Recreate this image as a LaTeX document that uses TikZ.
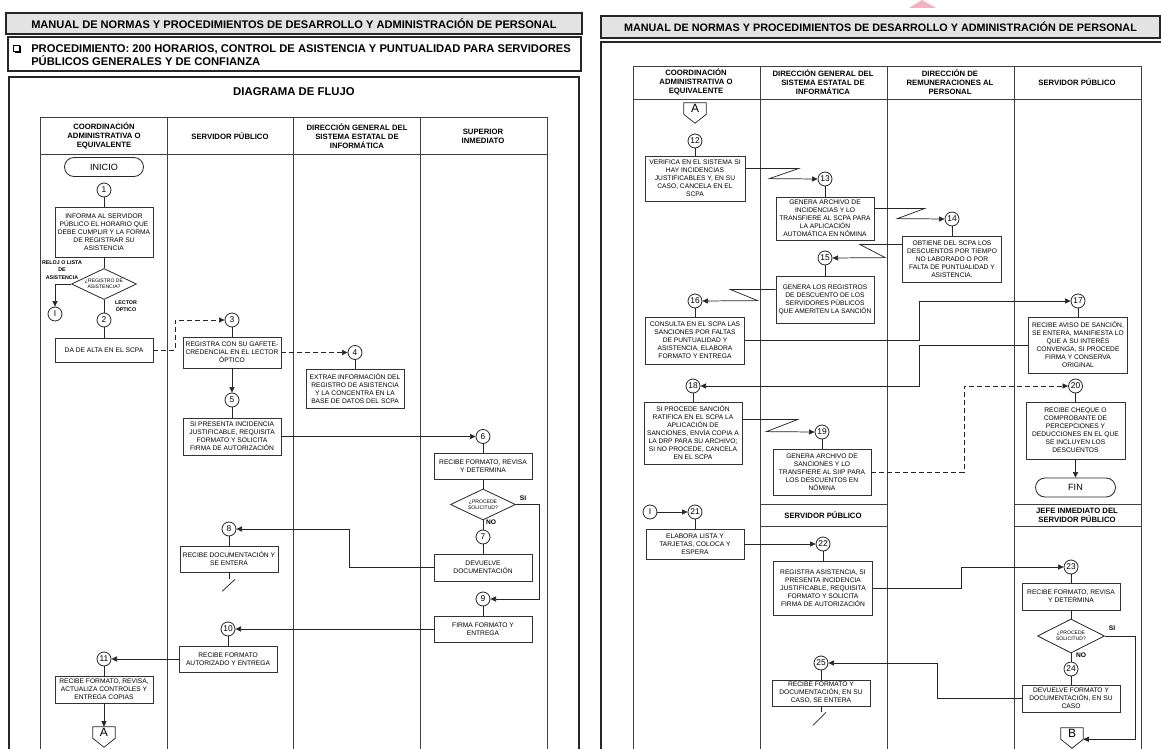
\documentclass[tikz,border=0pt]{standalone}
\usepackage{fontspec}
\setmainfont{Liberation Sans}
\usetikzlibrary{arrows.meta,shapes.geometric,shapes.misc,calc}
\begin{document}
\begin{tikzpicture}[x=0.75pt,y=-0.75pt,
  ln/.style={line width=0.55pt, draw=black!85},
  flow/.style={ln, -{Triangle[length=4.2pt,width=3.8pt]}},
  dsh/.style={ln, dash pattern=on 3.5pt off 2.5pt, -{Triangle[length=4.2pt,width=3.8pt]}},
  box/.style={draw=black!80, line width=0.6pt, fill=white, align=center, inner sep=0pt, font=\fontsize{5}{6}\selectfont},
  sz/.style 2 args={minimum width=#1*0.75pt, minimum height=#2*0.75pt},
  num/.style={circle, draw=black!85, line width=0.6pt, fill=white, minimum size=10.5pt, inner sep=0pt, font=\fontsize{6.3}{6.3}\selectfont},
  term/.style={rounded rectangle, draw=black!85, line width=0.6pt, inner sep=0pt, font=\fontsize{6.8}{7}\selectfont},
  dec/.style={diamond, draw=black!85, line width=0.6pt, fill=white, inner sep=0pt, minimum width=48.75pt, minimum height=23.25pt},
  dtxt/.style={align=center, inner sep=0pt, font=\fontsize{3.8}{4.4}\selectfont},
  cnx/.style={inner sep=0pt, minimum width=16.5pt, minimum height=8.25pt, font=\fontsize{9}{9}\selectfont},
  lane/.style={line width=0.6pt, draw=black!75},
  lanehd/.style={align=center, font=\bfseries\fontsize{5.8}{6.9}\selectfont},
  tinylbl/.style={align=center, inner sep=0pt, font=\bfseries\fontsize{4}{5.4}\selectfont},
  yn/.style={inner sep=0pt, font=\bfseries\fontsize{5}{5}\selectfont},
  frame/.style={line width=0.9pt, draw=black!85},
  ]
\clip (0,0) rectangle (1161,749);
\fill[white] (0,0) rectangle (1161,749);

% ================= LEFT PAGE =================
\node[draw, frame, fill=gray!22, sz={576}{21}, inner sep=0pt, font=\bfseries\fontsize{8.3}{9}\selectfont] (hdrL) at (294,23.5) {MANUAL DE NORMAS Y PROCEDIMIENTOS DE DESARROLLO Y ADMINISTRACIÓN DE PERSONAL};
\draw[frame] (8,37) rectangle (581,71);
\draw[line width=0.5pt] (13,45) rectangle (19,51);
\draw[line width=0.9pt] (14.5,52) -- (20,52) -- (20,46.5);
\node[anchor=west, align=left, inner sep=0pt, font=\bfseries\fontsize{8.4}{9.75}\selectfont] (proc) at (31,55.5) {PROCEDIMIENTO: 200 HORARIOS, CONTROL DE ASISTENCIA Y PUNTUALIDAD PARA SERVIDORES\\PÚBLICOS GENERALES Y DE CONFIANZA};
\draw[frame] (9,77) rectangle (579,770);
\node[font=\bfseries\fontsize{8.5}{9}\selectfont] (dtitle) at (294,92) {DIAGRAMA DE FLUJO};

\draw[lane] (40,117) rectangle (547,770);
\draw[lane] (40,154) -- (547,154);
\draw[lane] (167,117) -- (167,770) (293,117) -- (293,770) (420,117) -- (420,770);
\node[lanehd] (lh1) at (104,136) {COORDINACIÓN\\ADMINISTRATIVA O\\EQUIVALENTE};
\node[lanehd] (lh2) at (230,136) {SERVIDOR PÚBLICO};
\node[lanehd] (lh3) at (357,136) {DIRECCIÓN GENERAL DEL\\SISTEMA ESTATAL DE\\INFORMÁTICA};
\node[lanehd] (lh4) at (483,136) {SUPERIOR\\INMEDIATO};

\node[term, sz={79}{19}] (inicio) at (104,167) {INICIO};
\node[num] (n1) at (104,190) {1};
\node[box, sz={98}{50}] (b1) at (104,232) {INFORMA AL SERVIDOR\\PÚBLICO EL HORARIO QUE\\DEBE CUMPLIR Y LA FORMA\\DE REGISTRAR SU\\ASISTENCIA};
\node[dec] (d1) at (104,284) {};
\node[dtxt] (d1t) at (104,284) {¿REGISTRO DE\\ASISTENCIA?};
\node[tinylbl] (lreloj) at (62,270) {RELOJ O LISTA\\DE\\ASISTENCIA};
\node[num] (nI) at (55,314) {I};
\node[tinylbl] (llector) at (126,306) {LECTOR\\ÓPTICO};
\node[num] (n2) at (104,320) {2};
\node[box, sz={98}{24}] (b2) at (104,350) {DA DE ALTA EN EL SCPA};
\node[num] (n3) at (232,320) {3};
\node[box, sz={98}{31}] (b3) at (232,352.5) {REGISTRA CON SU GAFETE-\\CREDENCIAL EN EL LECTOR\\ÓPTICO};
\node[num] (n4) at (355,352.5) {4};
\node[box, sz={98}{39}] (b4) at (355,388.5) {EXTRAE INFORMACIÓN DEL\\REGISTRO DE ASISTENCIA\\Y LA CONCENTRA EN LA\\BASE DE DATOS DEL SCPA};
\node[num] (n5) at (232,400) {5};
\node[box, sz={98}{37}] (b5) at (232,436.5) {SI PRESENTA INCIDENCIA\\JUSTIFICABLE, REQUISITA\\FORMATO Y SOLICITA\\FIRMA DE AUTORIZACIÓN};
\node[num] (n6) at (483,436.5) {6};
\node[box, sz={98}{26}] (b6) at (483,466) {RECIBE FORMATO, REVISA\\Y DETERMINA};
\node[dec] (d2) at (483,504.5) {};
\node[dtxt] (d2t) at (483,504.5) {¿PROCEDE\\SOLICITUD?};
\node[yn] (si1) at (523,498) {SI};
\node[yn] (no1) at (491,522) {NO};
\node[num] (n7) at (483,537) {7};
\node[box, sz={98}{27}] (b7) at (483,567.5) {DEVUELVE\\DOCUMENTACIÓN};
\node[num] (n8) at (229,529) {8};
\node[box, sz={98}{26}] (b8) at (229,559) {RECIBE DOCUMENTACIÓN Y\\SE ENTERA};
\node[num] (n9) at (483,599) {9};
\node[box, sz={98}{26}] (b9) at (483,629) {FIRMA FORMATO Y\\ENTREGA};
\node[num] (n10) at (228,629) {10};
\node[box, sz={98}{26}] (b10) at (228,659) {RECIBE FORMATO\\AUTORIZADO Y ENTREGA};
\node[num] (n11) at (104,659) {11};
\node[box, sz={98}{27}] (b11) at (104,689.5) {RECIBE FORMATO, REVISA,\\ACTUALIZA CONTROLES Y\\ENTREGA COPIAS};
\node[cnx] (cA) at (104,732.5) {A};
\draw[ln] (cA.north west) -- (cA.north east) -- (cA.south east) -- ([yshift=-6.75pt]cA.south) -- (cA.south west) -- cycle;

\draw[ln] (n1) -- (b1);
\draw[ln] (b1) -- (d1);
\draw[ln] (d1) -- (n2);
\draw[flow] (d1.west) -| (nI.north);
\draw[ln] (n2) -- (b2);
\draw[dsh] (b2.east) -- ++(22,0) |- (n3.west);
\draw[ln] (n3) -- (b3);
\draw[dsh] (b3.east) -- (n4.west);
\draw[ln] (n4) -- (b4);
\draw[flow] (b3) -- (n5);
\draw[ln] (n5) -- (b5);
\draw[flow] (b5.east) -- (n6.west);
\draw[ln] (n6) -- (b6);
\draw[ln] (b6) -- (d2);
\draw[ln] (d2) -- (n7);
\draw[ln] (n7) -- (b7);
\draw[flow] (b7.west) -- (349,567.5) |- (n8.east);
\draw[ln] (n8) -- (b8);
\draw[ln] (b8.south) -- ++(0,7);
\draw[ln] ($(b8.south)+(6,7)$) -- ++(-13,12);
\draw[flow] (d2.east) -- (539,504.5) |- (n9.east);
\draw[ln] (n9) -- (b9);
\draw[flow] (b9.west) -- (n10.east);
\draw[ln] (n10) -- (b10);
\draw[flow] (b10.west) -- (n11.east);
\draw[ln] (n11) -- (b11);
\draw[flow] (b11) -- (cA);

% ================= RIGHT PAGE =================
\fill[fill={rgb,255:red,242;green,178;blue,192}] (909,8) -- (922,0) -- (936,8) -- cycle;
\node[draw, frame, fill=gray!22, sz={559}{22}, inner sep=0pt, font=\bfseries\fontsize{8.1}{9}\selectfont] (hdrR) at (880.5,27) {MANUAL DE NORMAS Y PROCEDIMIENTOS DE DESARROLLO Y ADMINISTRACIÓN DE PERSONAL};
\draw[frame] (601,42) rectangle (1175,770);

\draw[lane] (633,66) rectangle (1141,770);
\draw[lane] (633,99) -- (1141,99);
\draw[lane] (760,66) -- (760,770) (887,66) -- (887,770) (1014,66) -- (1014,770);
\draw[lane] (760,504) -- (887,504) (760,526) -- (887,526) (1014,504) -- (1141,504) (1014,526) -- (1141,526);
\node[lanehd] (rh1) at (696,82) {COORDINACIÓN\\ADMINISTRATIVA O\\EQUIVALENTE};
\node[lanehd] (rh2) at (823,82) {DIRECCIÓN GENERAL DEL\\SISTEMA ESTATAL DE\\INFORMÁTICA};
\node[lanehd] (rh3) at (950,82) {DIRECCIÓN DE\\REMUNERACIONES AL\\PERSONAL};
\node[lanehd] (rh4) at (1077,82) {SERVIDOR PÚBLICO};
\node[lanehd] (rh5) at (823,515) {SERVIDOR PÚBLICO};
\node[lanehd] (rh6) at (1077,515) {JEFE INMEDIATO DEL\\SERVIDOR PÚBLICO};

\node[cnx] (cA2) at (695,108.5) {A};
\draw[ln] (cA2.north west) -- (cA2.north east) -- (cA2.south east) -- ([yshift=-6.75pt]cA2.south) -- (cA2.south west) -- cycle;
\node[num] (n12) at (695,141) {12};
\node[box, sz={100}{45}] (b12) at (695,178.5) {VERIFICA EN EL SISTEMA SI\\HAY INCIDENCIAS\\JUSTIFICABLES Y, EN SU\\CASO, CANCELA EN EL\\SCPA};
\node[num] (n13) at (825,179) {13};
\node[box, sz={98}{43}] (b13) at (825,218.5) {GENERA ARCHIVO DE\\INCIDENCIAS Y LO\\TRANSFIERE AL SCPA PARA\\LA APLICACIÓN\\AUTOMÁTICA EN NÓMINA};
\node[num] (n14) at (952,219) {14};
\node[box, sz={99}{46}] (b14) at (952,259) {OBTIENE DEL SCPA LOS\\DESCUENTOS POR TIEMPO\\NO LABORADO O POR\\FALTA DE PUNTUALIDAD Y\\ASISTENCIA.};
\node[num] (n15) at (825,258) {15};
\node[box, sz={98}{47}] (b15) at (825,299.5) {GENERA LOS REGISTROS\\DE DESCUENTO DE LOS\\SERVIDORES PÚBLICOS\\QUE AMERITEN LA SANCIÓN};
\node[num] (n16) at (695,301) {16};
\node[box, sz={99}{47}] (b16) at (695,340.5) {CONSULTA EN EL SCPA LAS\\SANCIONES POR FALTAS\\DE PUNTUALIDAD Y\\ASISTENCIA, ELABORA\\FORMATO Y ENTREGA};
\node[num] (n17) at (1078,301) {17};
\node[box, sz={99}{56}] (b17) at (1078,345) {RECIBE AVISO DE SANCIÓN,\\SE ENTERA, MANIFIESTA LO\\QUE A SU INTERÉS\\CONVENGA, SI PROCEDE\\FIRMA Y CONSERVA\\ORIGINAL};
\node[num] (n18) at (693,386) {18};
\node[box, sz={98}{62}] (b18) at (693,433) {SI PROCEDE SANCIÓN\\RATIFICA EN EL SCPA LA\\APLICACIÓN DE\\SANCIONES, ENVÍA COPIA A\\LA DRP PARA SU ARCHIVO;\\SI NO PROCEDE, CANCELA\\EN EL SCPA};
\node[num] (n19) at (822,432) {19};
\node[box, sz={98}{46}] (b19) at (822,472) {GENERA ARCHIVO DE\\SANCIONES Y LO\\TRANSFIERE AL SIIP PARA\\LOS DESCUENTOS EN\\NÓMINA};
\node[num] (n20) at (1075.5,386) {20};
\node[box, sz={99}{57}] (b20) at (1075.5,430.5) {RECIBE CHEQUE O\\COMPROBANTE DE\\PERCEPCIONES Y\\DEDUCCIONES EN EL QUE\\SE INCLUYEN LOS\\DESCUENTOS};
\node[term, sz={80}{19}] (fin) at (1075.5,487.5) {FIN};

\draw[ln] (n12) -- (b12);
\draw[flow] ($(b12.north east)+(0,13)$) -- ++(53,0) -- ++(-29,10) -- (n13.west);
\draw[ln] (n13) -- (b13);
\draw[flow] ($(b13.north east)+(0,12)$) -- ++(50,0) -- ++(-27,10) -- (n14.west);
\draw[ln] (n14) -- (b14);
\draw[flow] ($(b14.north west)+(0,9)$) -- ++(-42,0) -- ++(25,13) -- (n15.east);
\draw[ln] (n15) -- (b15);
\draw[flow] ($(b15.north west)+(0,14)$) -- ++(-45,0) -- ++(27,11) -- (n16.east);
\draw[ln] (n16) -- (b16);
\draw[flow] (b16.east) -- (919,340.5) |- (n17.west);
\draw[ln] (n17) -- (b17);
\draw[flow] (b17.west) -- (919,345) |- (n18.east);
\draw[ln] (n18) -- (b18);
\draw[flow] ($(b18.north east)+(0,18)$) -- ++(55,0) -- ++(-31,12) -- (n19.west);
\draw[ln] (n19) -- (b19);
\draw[dsh] (b19.east) -- (964,472) |- (n20.west);
\draw[ln] (n20) -- (b20);
\draw[flow] (b20) -- (fin);

\node[num] (nI2) at (650,512) {I};
\node[num] (n21) at (695,512) {21};
\node[box, sz={98}{30}] (b21) at (695,544) {ELABORA LISTA Y\\TARJETAS, COLOCA Y\\ESPERA};
\node[num] (n22) at (823,544) {22};
\node[box, sz={99}{54}] (b22) at (823,588) {REGISTRA ASISTENCIA, SI\\PRESENTA INCIDENCIA\\JUSTIFICABLE, REQUISITA\\FORMATO Y SOLICITA\\FIRMA DE AUTORIZACIÓN};
\node[num] (n23) at (1071,567) {23};
\node[box, sz={98}{27}] (b23) at (1071,596.5) {RECIBE FORMATO, REVISA\\Y DETERMINA};
\node[dec, minimum width=50.25pt, minimum height=25.5pt] (d3) at (1071,636) {};
\node[dtxt] (d3t) at (1071,636) {¿PROCEDE\\SOLICITUD?};
\node[yn] (si2) at (1112,628) {SI};
\node[yn] (no2) at (1081,655) {NO};
\node[num] (n24) at (1071,669) {24};
\node[box, sz={98}{27}] (b24) at (1071,698.5) {DEVUELVE FORMATO Y\\DOCUMENTACIÓN, EN SU\\CASO};
\node[num] (n25) at (821,663) {25};
\node[box, sz={98}{26}] (b25) at (821,693) {RECIBE FORMATO Y\\DOCUMENTACIÓN, EN SU\\CASO, SE ENTERA};
\node[cnx] (cB) at (1072,733.5) {B};
\draw[ln] (cB.north west) -- (cB.north east) -- (cB.south east) -- ([yshift=-6.75pt]cB.south) -- (cB.south west) -- cycle;

\draw[flow] (nI2) -- (n21);
\draw[ln] (n21) -- (b21);
\draw[flow] (b21.east) -- (n22.west);
\draw[ln] (n22) -- (b22);
\draw[flow] (b22.east) -- (961,588) |- (n23.west);
\draw[ln] (n23) -- (b23);
\draw[ln] (b23) -- (d3);
\draw[ln] (d3) -- (n24);
\draw[ln] (n24) -- (b24);
\draw[flow] (b24.west) -- (937,698.5) |- (n25.east);
\draw[ln] (n25) -- (b25);
\draw[ln] (b25.south) -- ++(0,6);
\draw[ln] ($(b25.south)+(5,6)$) -- ++(-13,13);
\draw[flow] (d3.east) -- (1135,636) |- (cB.south east);
\end{tikzpicture}
\end{document}
